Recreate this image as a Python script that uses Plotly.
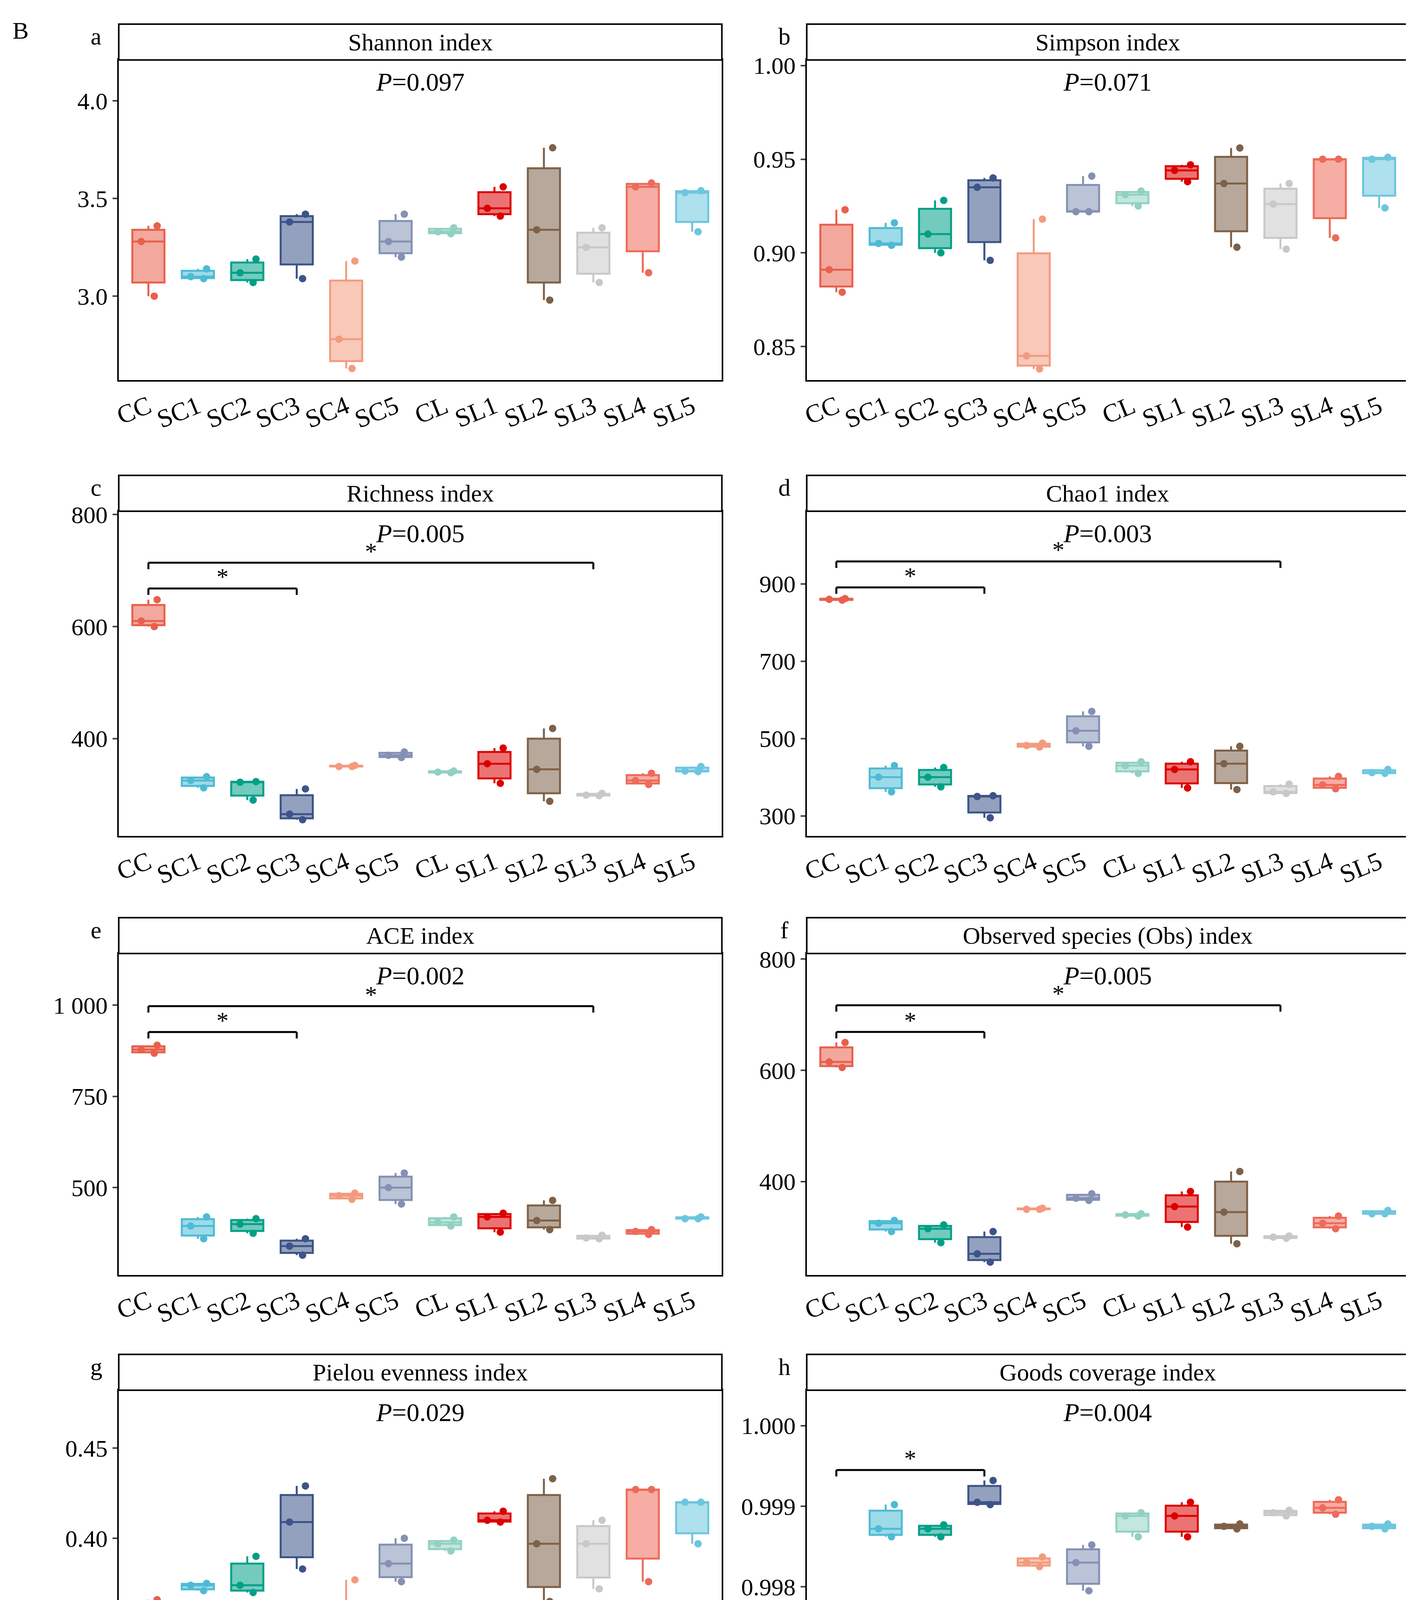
import plotly.graph_objects as go

groups = ["CC","SC1","SC2","SC3","SC4","SC5","CL","SL1","SL2","SL3","SL4","SL5"]
colors = ["#E8604C","#4DBBD5","#00A087","#3C5488","#F39B7F","#8491B4","#91D1C2","#DC0000","#7E6148","#C8C8C8","#EE6A5A","#6CC6DE"]

shannon = [[3.0,3.28,3.36],[3.09,3.1,3.14],[3.07,3.12,3.19],[3.09,3.38,3.42],[2.63,2.78,3.18],[3.2,3.28,3.42],
           [3.32,3.33,3.35],[3.41,3.45,3.56],[2.98,3.34,3.76],[3.07,3.25,3.35],[3.12,3.56,3.58],[3.33,3.53,3.54]]
simpson = [[0.879,0.891,0.923],[0.904,0.905,0.916],[0.9,0.91,0.928],[0.896,0.935,0.94],[0.838,0.845,0.918],[0.922,0.922,0.941],
           [0.925,0.931,0.933],[0.938,0.944,0.947],[0.903,0.937,0.956],[0.902,0.926,0.937],[0.908,0.95,0.95],[0.924,0.95,0.951]]
richness = [[600,610,648],[312,325,332],[290,322,323],[255,265,310],[350,350,352],[366,370,376],
            [339,340,342],[320,355,383],[288,345,418],[298,299,302],[318,325,338],[341,342,350]]
chao1 = [[858,860,862],[362,400,430],[375,400,425],[295,350,352],[478,482,488],[480,520,570],
         [410,430,440],[372,420,440],[368,435,480],[358,362,382],[370,380,402],[410,412,420]]
ace = [[868,878,890],[360,395,420],[375,400,415],[315,340,360],[468,478,485],[455,500,540],
       [395,405,420],[378,420,430],[385,410,465],[360,362,370],[372,380,385],[415,415,420]]
obs = [[605,615,650],[310,325,330],[290,315,322],[255,270,310],[350,350,352],[366,370,378],
       [338,340,342],[318,355,382],[288,345,418],[298,300,302],[315,325,338],[342,342,348]]
pielou = [[0.32,0.356,0.366],[0.371,0.374,0.375],[0.37,0.374,0.39],[0.383,0.409,0.429],[0.31,0.328,0.377],[0.376,0.386,0.4],
          [0.393,0.397,0.399],[0.409,0.41,0.415],[0.365,0.397,0.433],[0.372,0.397,0.41],[0.376,0.427,0.427],[0.397,0.42,0.42]]
goods = [[0.99655,0.99656,0.99666],[0.99862,0.99872,0.99902],[0.99862,0.99872,0.99877],[0.99902,0.99905,0.99932],
         [0.99825,0.9983,0.99837],[0.99795,0.9983,0.99852],[0.99862,0.99888,0.99892],[0.99862,0.99888,0.99905],
         [0.99872,0.99875,0.99878],[0.99888,0.99892,0.99895],[0.9989,0.99898,0.99908],[0.99872,0.99875,0.99878]]

panels = [
    dict(letter="a", title="Shannon index", p="0.097", data=shannon, yr=[2.57,4.21], tv=[3.0,3.5,4.0], tt=["3.0","3.5","4.0"], br=[]),
    dict(letter="b", title="Simpson index", p="0.071", data=simpson, yr=[0.832,1.003], tv=[0.85,0.9,0.95,1.0], tt=["0.85","0.90","0.95","1.00"], br=[]),
    dict(letter="c", title="Richness index", p="0.005", data=richness, yr=[226,806], tv=[400,600,800], tt=["400","600","800"], br=[(3,668),(9,714)]),
    dict(letter="d", title="Chao1 index", p="0.003", data=chao1, yr=[248,1088], tv=[300,500,700,900], tt=["300","500","700","900"], br=[(3,891),(9,958)]),
    dict(letter="e", title="ACE index", p="0.002", data=ace, yr=[261,1141], tv=[500,750,1000], tt=["500","750","1 000"], br=[(3,926),(9,997)]),
    dict(letter="f", title="Observed species (Obs) index", p="0.005", data=obs, yr=[232,810], tv=[400,600,800], tt=["400","600","800"], br=[(3,669),(9,717)]),
    dict(letter="g", title="Pielou evenness index", p="0.029", data=pielou, yr=[0.304,0.482], tv=[0.35,0.40,0.45], tt=["0.35","0.40","0.45"], br=[]),
    dict(letter="h", title="Goods coverage index", p="0.004", data=goods, yr=[0.99645,1.00044], tv=[0.997,0.998,0.999,1.0], tt=["0.997","0.998","0.999","1.000"], br=[(3,0.99945)]),
]

W, H = 3606, 4520
SW, SH = 1240.0, 1568.0
colx = [(97,630),(705,1237)]
rows = [(42,328,10),(445,735,413),(840,1127,808),(1230,1517,1198)]
FONT = "Liberation Serif"

def rgba(h, a):
    h = h.lstrip("#")
    return "rgba(%d,%d,%d,%s)" % (int(h[0:2],16), int(h[2:4],16), int(h[4:6],16), a)

fig = go.Figure()
layout = dict(width=W, height=H, margin=dict(l=0,r=0,t=0,b=0), paper_bgcolor="white", plot_bgcolor="white",
              showlegend=False, font=dict(family=FONT, size=58, color="black"), shapes=[], annotations=[])

for i, pn in enumerate(panels):
    r, c = divmod(i, 2)
    x0, x1 = colx[c]
    yt, yb, ys = rows[r]
    k = i + 1
    xa = "x" if k == 1 else "x%d" % k
    ya = "y" if k == 1 else "y%d" % k
    for g, col, vals in zip(groups, colors, pn["data"]):
        fig.add_trace(go.Box(x=[g]*len(vals), y=vals, xaxis=xa, yaxis=ya, boxpoints="all", jitter=0.7, pointpos=0,
                             fillcolor=rgba(col, 0.55), line=dict(color=col, width=5), marker=dict(color=col, size=19),
                             whiskerwidth=0, width=0.65))
    dom_x = [x0/SW, x1/SW]
    dom_y = [1-yb/SH, 1-yt/SH]
    layout["xaxis" if k == 1 else "xaxis%d" % k] = dict(domain=dom_x, anchor=ya, categoryorder="array", categoryarray=groups,
        range=[-0.6, 11.6], showline=True, mirror=True, linecolor="black", linewidth=4, ticks="", tickangle=-22,
        tickfont=dict(size=66, family=FONT), showgrid=False)
    layout["yaxis" if k == 1 else "yaxis%d" % k] = dict(domain=dom_y, anchor=xa, range=pn["yr"], tickvals=pn["tv"], ticktext=pn["tt"],
        showline=True, mirror=True, linecolor="black", linewidth=4, ticks="outside", ticklen=12, tickwidth=4,
        tickfont=dict(size=62, family=FONT), showgrid=False, zeroline=False)
    layout["shapes"].append(dict(type="rect", xref="paper", yref="paper", x0=dom_x[0], x1=dom_x[1], y0=dom_y[1], y1=1-ys/SH,
                                 line=dict(color="black", width=4), fillcolor="white"))
    cx = (dom_x[0]+dom_x[1])/2
    layout["annotations"].append(dict(xref="paper", yref="paper", x=cx, y=(dom_y[1]+1-ys/SH)/2, xanchor="center",
                                      text=pn["title"], showarrow=False, font=dict(size=62, family=FONT), yanchor="middle"))
    layout["annotations"].append(dict(xref="paper", yref="paper", x=dom_x[0]-0.016, y=1-ys/SH+0.001, text=pn["letter"],
                                      showarrow=False, font=dict(size=62, family=FONT), yanchor="top", xanchor="center"))
    layout["annotations"].append(dict(xref="paper", yref="paper", x=cx, y=dom_y[1]-0.004, xanchor="center",
                                      text="<i>P</i>=" + pn["p"], showarrow=False, font=dict(size=66, family=FONT), yanchor="top"))
    span = pn["yr"][1] - pn["yr"][0]
    for (j, yv) in pn["br"]:
        tick = span * 0.02
        for sh in [dict(x0=0, x1=j, y0=yv, y1=yv), dict(x0=0, x1=0, y0=yv-tick, y1=yv), dict(x0=j, x1=j, y0=yv-tick, y1=yv)]:
            sh.update(type="line", xref=xa, yref=ya, line=dict(color="black", width=5))
            layout["shapes"].append(sh)
        layout["annotations"].append(dict(xref=xa, yref=ya, x=j/2, y=yv, text="*", showarrow=False, xanchor="center",
                                          font=dict(size=62, family=FONT), yanchor="bottom", yshift=-6))

layout["annotations"].append(dict(xref="paper", yref="paper", x=0.002, y=0.998, text="B", showarrow=False,
                                  font=dict(size=62, family=FONT), xanchor="left", yanchor="top"))
fig.update_layout(**layout)
fig.write_html("out.html")
